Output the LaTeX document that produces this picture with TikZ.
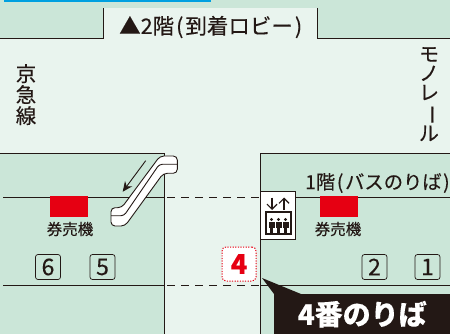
\documentclass[tikz,border=0pt]{standalone}
\usetikzlibrary{arrows.meta}
\usepackage{fontspec}
\setmainfont{Noto Sans CJK JP}[FakeBold=0.25]
\definecolor{dg}{HTML}{CBE6D8}
\definecolor{lg}{HTML}{E9F4EE}
\definecolor{ink}{HTML}{231815}
\definecolor{sky}{HTML}{00A0E0}
\definecolor{redc}{HTML}{E60012}
\tikzset{
  wall/.style={draw=ink,line width=0.9pt},
  txt/.style={text=ink,inner sep=0pt,font=\fontsize{20.5}{20}\selectfont},
  small/.style={text=ink,inner sep=0pt,font=\fontsize{15.5}{15}\selectfont},
  numbox/.style={draw=ink,line width=0.7pt,rounded corners=2.5pt,minimum width=25pt,minimum height=25pt,inner sep=0pt,text=ink,font=\fontsize{23}{23}\selectfont},
  redblock/.style={fill=redc,draw=none},
  dashline/.style={draw=ink,line width=0.7pt,dash pattern=on 8pt off 6pt},
  person/.style={fill=ink,draw=none},
  esc/.style={draw=ink,line width=0.9pt,line join=round},
  evarrow/.style={draw=ink,line width=1.2pt,-{Straight Barb[length=5pt,width=10pt,line width=1.2pt]}}
}
\begin{document}
\begin{tikzpicture}[x=1pt,y=-1pt]
\useasboundingbox (0,0) rectangle (450,334);
\fill[lg] (0,0) rectangle (450,334);
% top band
\fill[dg] (0,0) rectangle (450,8);
\fill[dg] (0,8) rectangle (103,38);
\fill[dg] (317,8) rectangle (450,38);
\fill[sky] (4,0) rectangle (211,2.2);
\draw[wall] (0,38) -- (103,38) -- (103,8);
\draw[wall] (317,8) -- (317,38) -- (450,38);
% blocks
\fill[dg] (0,153) rectangle (164,334);
\fill[dg] (260,153) rectangle (450,334);
\draw[wall] (0,153) -- (164,153) -- (164,334);
\draw[wall] (450,153) -- (260,153) -- (260,334);
% platform lines
\draw[wall] (3,197) -- (164,197);
\draw[wall] (3,285) -- (164,285);
\draw[wall] (260,197) -- (450,197);
\draw[wall] (260,285) -- (450,285);
\draw[dashline] (167,197) -- (260,197);
\draw[dashline] (167,285) -- (260,285);
% labels
\node[txt,anchor=west,font=\fontsize{21.5}{20}\selectfont] (hdr) at (119,27) {▲2階\kern2pt(\kern2pt到着ロビー\kern2pt)};
\node[txt,align=center,anchor=north] (kq) at (26,64) {京\\[1pt]急\\[1pt]線};
\node[txt,align=center,anchor=north,font=\fontsize{20}{19.2}\selectfont] (mono) at (429,47) {モ\\ノ\\レ\\\rotatebox[origin=c]{-90}{ー}\\ル};
\node[txt,anchor=west,font=\fontsize{19.3}{19}\selectfont] (f1) at (305,183) {1階\kern1.7pt(\kern1.7ptバスのりば\kern1.5pt)};
% ticket machines
\fill[redblock] (50,196) rectangle (88,217);
\fill[redblock] (320,196) rectangle (358,217);
\node[small] (tk1) at (70,229) {券売機};
\node[small] (tk2) at (338,229) {券売機};
% platform numbers
\node[numbox] (n6) at (48,267) {6};
\node[numbox] (n5) at (102.5,267) {5};
\node[numbox] (n2) at (374.5,267) {2};
\node[numbox] (n1) at (427.5,267) {1};
% red 4
\node[draw=redc,fill=white,dash pattern=on 1.2pt off 1.4pt,line width=1pt,rounded corners=4pt,minimum width=34pt,minimum height=34pt,inner sep=0pt,text=redc,font=\fontsize{27}{27}\selectfont\bfseries] (r4) at (239,264) {4};
% escalator
\draw[esc,fill=white,rounded corners=4pt] (121.7,207.7) -- (111,207.7) -- (111,226) -- (125,226) -- (163.3,173.3) -- (177.3,173.3) -- (177.3,156) -- (160,156) -- cycle;
\draw[esc,rounded corners=3pt] (111,215.7) -- (124,215.7) -- (159.3,164.3) -- (177.3,164.3);
\draw[draw=ink,line width=0.9pt,-{Stealth[length=10pt,width=9pt]}] (145.7,160.7) -- (122.7,191.7);
% elevator icon
\node[draw=ink,fill=white,line width=1pt,minimum width=35pt,minimum height=47pt,inner sep=0pt] (ev) at (278.3,215.5) {};
\draw[ink,line width=1.1pt] (266,212) rectangle (291,234);
\draw[evarrow] (272,197.5) -- (272,210);
\draw[evarrow] (284,210) -- (284,197.5);
\foreach \px in {271.5,278.5,285.5}{
  \fill[person] (\px,219.5) circle (1.7);
  \fill[person] (\px-3,222) rectangle (\px+3,227.5);
  \fill[person] (\px-1.8,227) rectangle (\px+1.8,232.5);
}
% callout
\coordinate (tip) at (262,278);
\fill[ink] (274,294) -- (tip) -- (301,294) -- cycle;
\node[fill=ink,text=white,anchor=north west,minimum width=176pt,minimum height=40pt,inner sep=0pt,font=\fontsize{28}{28}\selectfont\bfseries] (call) at (274,294) {4番のりば};
\end{tikzpicture}
\end{document}
